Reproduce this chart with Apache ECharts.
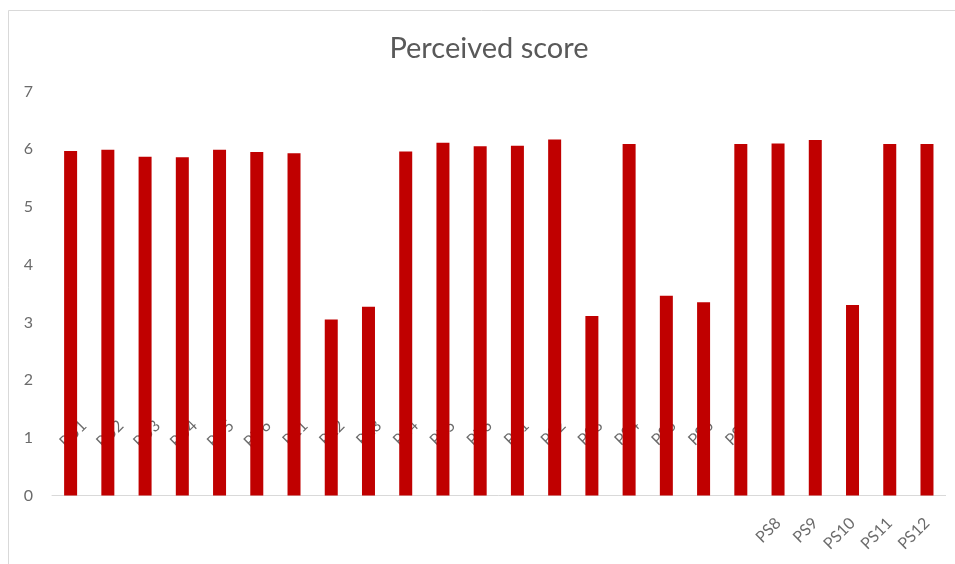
<!DOCTYPE html>
<html>
<head>
<meta charset="utf-8">
<script src="https://cdn.jsdelivr.net/npm/echarts@6/dist/echarts.min.js"></script>
<style>
  html, body { margin: 0; padding: 0; background: #ffffff; }
  #chart { width: 955px; height: 564px; }
</style>
</head>
<body>
<div id="chart"></div>
<script>
// Item codes for the questionnaire constructs
const categories = [
  'PU1', 'PU2', 'PU3', 'PU4', 'PU5', 'PU6',
  'PE1', 'PE2', 'PE3', 'PE4', 'PE5', 'PE6',
  'PS1', 'PS2', 'PS3', 'PS4', 'PS5', 'PS6',
  'PS7', 'PS8', 'PS9', 'PS10', 'PS11', 'PS12'
];

// Mean perceived score per item
const scores = [
  5.97, 5.99, 5.87, 5.86, 5.99, 5.95,
  5.93, 3.05, 3.27, 5.96, 6.11, 6.05,
  6.06, 6.17, 3.11, 6.09, 3.46, 3.35,
  6.09, 6.10, 6.16, 3.30, 6.09, 6.09
];

const yTicks = [0, 1, 2, 3, 4, 5, 6, 7];

// The first item labels sit up inside the plot, the rest below the axis
const raisedLabelCount = 19;

const labelColor = '#6b6b6b';
const fontFamily = 'Lato, "Open Sans", sans-serif';

const chart = echarts.init(document.getElementById('chart'), null, { renderer: 'canvas' });

chart.setOption({
  backgroundColor: '#ffffff',
  animation: false,
  title: {
    text: 'Perceived score',
    left: 484,
    top: 29,
    textAlign: 'center',
    textStyle: { fontFamily: fontFamily, fontSize: 29, fontWeight: 'normal', color: '#595959' }
  },
  graphic: [
    { type: 'line', silent: true, shape: { x1: 8.5, y1: 10.5, x2: 955, y2: 10.5 },
      style: { stroke: '#d9d9d9', lineWidth: 1 } },
    { type: 'line', silent: true, shape: { x1: 8.5, y1: 10.5, x2: 8.5, y2: 564 },
      style: { stroke: '#d9d9d9', lineWidth: 1 } }
  ],
  grid: [
    { left: 52, right: 9.4, top: 91.5, bottom: 68.5 },
    { left: 65.6, right: 4.8, top: 91.5, bottom: 149 }
  ],
  xAxis: [
    {
      type: 'category',
      gridIndex: 0,
      data: categories,
      axisLine: { show: true, lineStyle: { color: '#d9d9d9', width: 1 } },
      axisTick: { show: false },
      axisLabel: {
        interval: 0,
        rotate: 45,
        margin: 25,
        color: labelColor,
        fontFamily: fontFamily,
        fontSize: 16,
        formatter: (value, index) => (index >= raisedLabelCount ? value : '')
      }
    },
    {
      type: 'category',
      gridIndex: 1,
      data: categories,
      axisLine: { show: false },
      axisTick: { show: false },
      axisLabel: {
        interval: 0,
        rotate: 45,
        margin: 8,
        color: labelColor,
        fontFamily: fontFamily,
        fontSize: 16,
        formatter: (value, index) => (index < raisedLabelCount ? value : '')
      }
    }
  ],
  yAxis: [
    {
      type: 'value',
      gridIndex: 0,
      min: yTicks[0],
      max: yTicks[yTicks.length - 1],
      interval: 1,
      axisLine: { show: false },
      axisTick: { show: false },
      splitLine: { show: false },
      axisLabel: {
        margin: 19,
        color: labelColor,
        fontFamily: fontFamily,
        fontSize: 16
      }
    },
    {
      type: 'value',
      gridIndex: 1,
      show: false,
      min: 0,
      max: 1
    }
  ],
  series: [
    {
      type: 'bar',
      name: 'Perceived score',
      xAxisIndex: 0,
      yAxisIndex: 0,
      data: scores,
      barWidth: 13,
      itemStyle: { color: '#c00000' },
      z: 3
    }
  ]
});
</script>
</body>
</html>
